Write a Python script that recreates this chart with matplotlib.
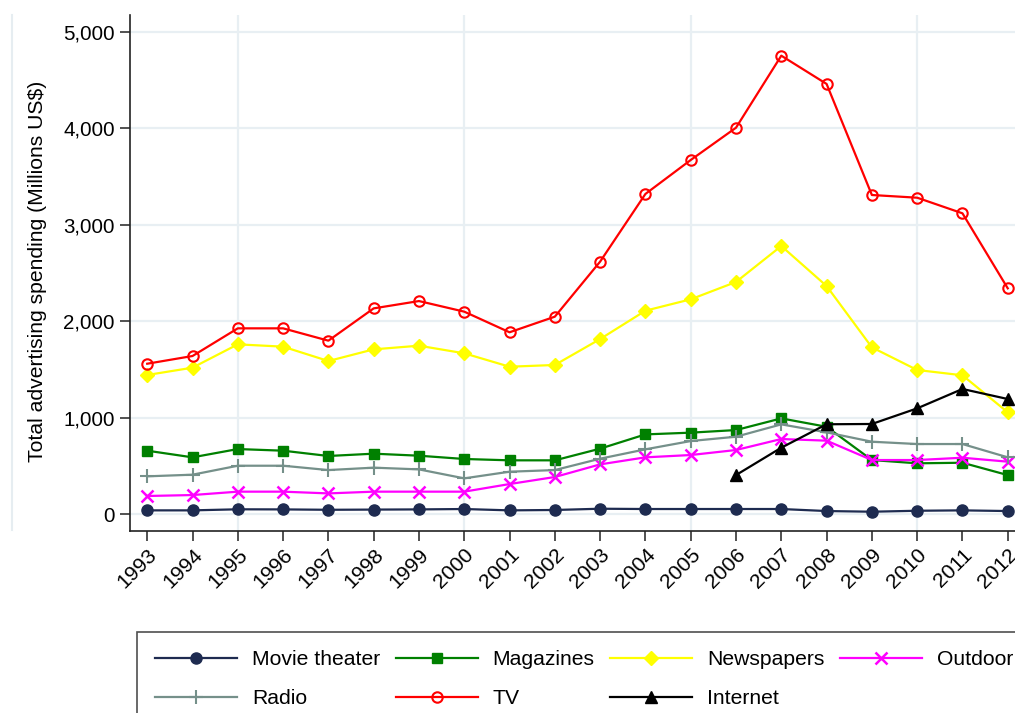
import numpy as np
import matplotlib
matplotlib.use("Agg")
import matplotlib.pyplot as plt
from matplotlib.lines import Line2D

plt.rcParams['font.family'] = ['Liberation Sans', 'DejaVu Sans']

years = list(range(1993, 2013))

movie = [38, 38, 49, 48, 44, 46, 48, 52, 38, 42, 55, 52, 52, 52, 52, 31, 24, 34, 38, 31]
magazines = [657, 588, 674, 657, 602, 626, 605, 571, 557, 557, 678, 826, 844, 871, 992, 905, 560, 526, 532, 404]
newspapers = [1442, 1518, 1760, 1736, 1587, 1708, 1746, 1667, 1528, 1546, 1815, 2109, 2227, 2407, 2780, 2365, 1729, 1494, 1439, 1055]
outdoor = [187, 197, 232, 232, 214, 232, 232, 232, 311, 384, 515, 588, 612, 664, 778, 761, 560, 560, 584, 543]
radio = [391, 408, 501, 501, 456, 481, 463, 370, 439, 456, 574, 671, 757, 802, 930, 847, 750, 726, 726, 588]
tv = [1559, 1639, 1926, 1926, 1798, 2133, 2209, 2099, 1885, 2047, 2618, 3320, 3672, 4007, 4754, 4461, 3309, 3281, 3119, 2341]
internet_years = [2006, 2007, 2008, 2009, 2010, 2011, 2012]
internet = [404, 688, 931, 934, 1096, 1297, 1193]

fs = 15.2

fig = plt.figure(figsize=(10.15, 7.13), dpi=100)
ax = fig.add_axes([130 / 1015, 1 - 531 / 713, 885 / 1015, 516 / 713])

grid_c = '#e8eff3'
for x in [1995, 2000, 2005, 2010]:
    ax.axvline(x, color=grid_c, lw=1.6, zorder=0)
for y in range(0, 5001, 1000):
    ax.axhline(y, color=grid_c, lw=1.6, zorder=0)

lw = 1.6
ax.plot(years, movie, color='#1e2b50', lw=lw, marker='o', ms=8, label='Movie theater')
ax.plot(years, magazines, color='#008000', lw=lw, marker='s', ms=7.5, label='Magazines')
ax.plot(years, newspapers, color='#ffff00', lw=lw, marker='D', ms=7.5, label='Newspapers')
ax.plot(years, outdoor, color='#ff00ff', lw=lw, marker='x', ms=9, mew=1.8, label='Outdoor')
ax.plot(years, radio, color='#75908a', lw=lw, marker='+', ms=10, mew=1.5, label='Radio')
ax.plot(years, tv, color='#ff0000', lw=lw, marker='o', ms=7.5, mfc='none', mew=1.5, label='TV')
ax.plot(internet_years, internet, color='#000000', lw=lw, marker='^', ms=9, label='Internet')

ax.set_xlim(1992.62, 2012.16)
ax.set_ylim(-176, 5176)
ax.set_xticks(years)
ax.set_xticklabels([str(y) for y in years], rotation=45, ha='right', rotation_mode='anchor', fontsize=fs)
ax.set_yticks(range(0, 5001, 1000))
ax.set_yticklabels(['0', '1,000', '2,000', '3,000', '4,000', '5,000'], fontsize=14.8)
ax.tick_params(axis='both', direction='out', length=7, width=1.2, color='#333333', pad=4)
ax.tick_params(axis='x', pad=3)
ax.set_ylabel('Total advertising spending (Millions US$)', fontsize=fs)
ax.yaxis.set_label_coords(-0.094, 0.504)

for s in ['top', 'right']:
    ax.spines[s].set_visible(False)
for s in ['left', 'bottom']:
    ax.spines[s].set_linewidth(1.2)
    ax.spines[s].set_color('#222222')

# faint outer border at left
fig.add_artist(Line2D([12 / 1015, 12 / 1015], [1 - 15 / 713, 1 - 530 / 713],
                      transform=fig.transFigure, color='#e6edf1', lw=1.5))

# legend reads row by row, matplotlib fills columns first
handles, labels = ax.get_legend_handles_labels()
order = [0, 4, 1, 5, 2, 6, 3]
leg = fig.legend([handles[i] for i in order], [labels[i] for i in order], ncol=4, loc='upper left',
                 bbox_to_anchor=(137 / 1015, 1 - 632 / 713), bbox_transform=fig.transFigure,
                 fontsize=fs, handlelength=3.9, handletextpad=0.7, columnspacing=0.72,
                 borderpad=0.85, labelspacing=0.95, borderaxespad=0, frameon=True,
                 fancybox=False, edgecolor='#222222')
leg.get_frame().set_linewidth(1.2)

fig.savefig('out.png', dpi=100)
